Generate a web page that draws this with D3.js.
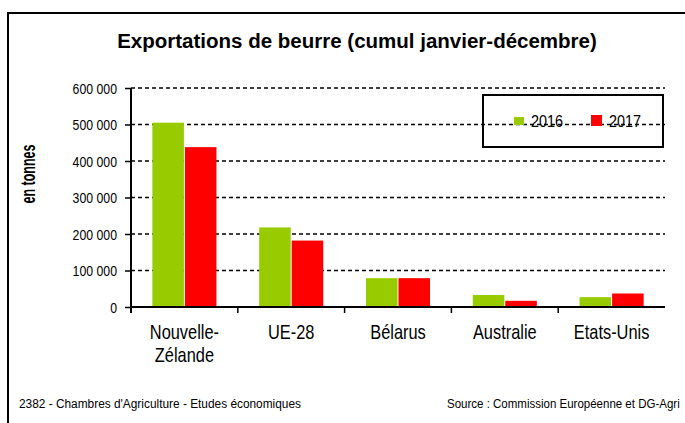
<!DOCTYPE html>
<html><head><meta charset="utf-8">
<script src="https://cdn.jsdelivr.net/npm/d3@7"></script>
<style>html,body{margin:0;padding:0;background:#fff;}svg{display:block;}</style>
</head><body>
<script>
const categories = [["Nouvelle-","Zélande"],["UE-28"],["Bélarus"],["Australie"],["Etats-Unis"]];
const categoryKeys = ["Nouvelle-Zélande","UE-28","Bélarus","Australie","Etats-Unis"];
const seriesNames = ["2016","2017"];
const values2016 = [505000, 218000, 79000, 33000, 27000];
const values2017 = [438000, 182000, 79000, 17000, 37000];
const yTicks = [0,100000,200000,300000,400000,500000,600000];
const colors = ["#99CC00","#FF0000"];
const titleText = "Exportations de beurre (cumul janvier-décembre)";
const yLabel = "en tonnes";
const footerLeft = "2382 - Chambres d'Agriculture - Etudes économiques";
const footerRight = "Source : Commission Européenne et DG-Agri";

const W=685,H=423;
const FONT="'Liberation Sans', Arial, sans-serif";
const svg=d3.select("body").append("svg").attr("width",W).attr("height",H);

// outer frame
svg.append("path").attr("d",`M8,${H+2} L8,13 L${W+2},13`).attr("fill","none").attr("stroke","#000").attr("stroke-width",2);

function txt(parent,x,y,s,size,anchor,sx,weight,rot){
  const g=parent.append("g").attr("transform",`translate(${x},${y})${rot?` rotate(${rot})`:""} scale(${sx},1)`);
  return g.append("text").attr("x",0).attr("y",0).attr("text-anchor",anchor).attr("font-family",FONT)
    .attr("font-size",size).attr("font-weight",weight||"normal").attr("fill","#000").text(s);
}
function fitTxt(parent,x,y,s,size,anchor,width,weight){
  const g=parent.append("g");
  const t=g.append("text").attr("x",0).attr("y",0).attr("text-anchor",anchor).attr("font-family",FONT)
    .attr("font-size",size).attr("font-weight",weight||"normal").attr("fill","#000").text(s);
  const w=t.node().getComputedTextLength();
  g.attr("transform",`translate(${x},${y}) scale(${width/w},1)`);
  return t;
}

const left=131,right=665,y0=307,yTop=88;
const x=d3.scaleBand().domain(categoryKeys).range([left,right]).paddingInner(0.4).paddingOuter(0.2);
const xs=d3.scaleBand().domain(seriesNames).range([0,x.bandwidth()]).paddingInner(0.03);
const y=d3.scaleLinear().domain([0,600000]).range([y0,yTop]);

// gridlines
svg.append("g").selectAll("line").data(yTicks.filter(d=>d>0)).join("line")
  .attr("x1",left).attr("x2",right).attr("y1",d=>y(d)).attr("y2",d=>y(d))
  .attr("stroke","#000").attr("stroke-width",1.5).attr("stroke-dasharray","4,3");

// title
fitTxt(svg,357,47.5,titleText,19.5,"middle",480,"bold");

// y label
txt(svg,35,174,yLabel,19.5,"middle",0.64,"bold",-90);

// bars
const series=[values2016,values2017];
const gBars=svg.append("g");
series.forEach((vals,si)=>{
  gBars.selectAll(null).data(vals).join("rect")
    .attr("x",(d,i)=>x(categoryKeys[i])+xs(seriesNames[si]))
    .attr("width",xs.bandwidth())
    .attr("y",d=>y(d)).attr("height",d=>y0-y(d))
    .attr("fill",colors[si]);
});

// y axis
const fmt=d=>d3.format(",")(d).replace(/,/g," ");
const yAxis=svg.append("g").attr("transform",`translate(${left},0)`)
  .call(d3.axisLeft(y).tickValues(yTicks).tickSize(6).tickPadding(8).tickFormat(fmt));
yAxis.select(".domain").remove();
yAxis.selectAll(".tick line").attr("stroke","#000").attr("stroke-width",1.5);
yAxis.selectAll(".tick text").remove();
yTicks.forEach(t=>{ txt(svg,117,y(t)+5.5,fmt(t),15,"end",0.82); });
svg.append("line").attr("x1",left).attr("x2",left).attr("y1",yTop).attr("y2",y0+6).attr("stroke","#000").attr("stroke-width",2);

// x axis
svg.append("line").attr("x1",left).attr("x2",right).attr("y1",y0).attr("y2",y0).attr("stroke","#000").attr("stroke-width",2);
const step=x.step();
svg.append("g").selectAll("line").data(categoryKeys.slice(1)).join("line")
  .attr("x1",d=>x(d)-x.paddingInner()*step/2).attr("x2",d=>x(d)-x.paddingInner()*step/2)
  .attr("y1",y0).attr("y2",y0+6).attr("stroke","#000").attr("stroke-width",1.5);

categories.forEach((lines,i)=>{
  const cx=x(categoryKeys[i])+x.bandwidth()/2;
  lines.forEach((l,j)=>{ txt(svg,cx,339+j*23,l,20,"middle",0.82); });
});

// legend
svg.append("rect").attr("x",483).attr("y",95).attr("width",180).attr("height",52)
  .attr("fill","none").attr("stroke","#000").attr("stroke-width",2);
svg.append("rect").attr("x",514).attr("y",117).attr("width",10).attr("height",8).attr("fill",colors[0]);
svg.append("rect").attr("x",591).attr("y",115).attr("width",11).attr("height",11).attr("fill",colors[1]);
txt(svg,531,127,seriesNames[0],16,"start",0.9);
txt(svg,609,127,seriesNames[1],16,"start",0.9);

// footer
txt(svg,19,408,footerLeft,13.5,"start",0.88);
fitTxt(svg,447,408,footerRight,13.5,"start",233);
</script>
</body></html>
